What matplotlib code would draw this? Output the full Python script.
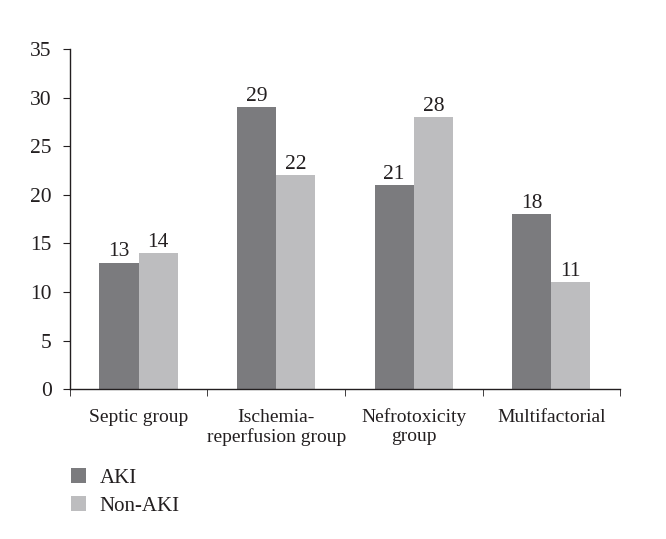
import numpy as np
import matplotlib
matplotlib.use("Agg")
import matplotlib.pyplot as plt
from matplotlib.ticker import MultipleLocator, FixedLocator

categories = ["Septic group", "Ischemia-\nreperfusion group", "Nefrotoxicity\ngroup", "Multifactorial"]
aki = [13, 29, 21, 18]
non_aki = [14, 22, 28, 11]
series_names = ["AKI", "Non-AKI"]

text_color = "#231f20"
aki_color = "#7b7b7e"
non_aki_color = "#bdbdbf"

plt.rcParams["font.family"] = ["Liberation Serif", "DejaVu Serif"]
plt.rcParams["text.color"] = text_color

fig = plt.figure(figsize=(6.66, 5.39), dpi=100)
ax = fig.add_axes([0.105, 0.278, 0.826, 0.631])

x = np.arange(len(categories))
w = 0.285
b1 = ax.bar(x - w / 2, aki, width=w, color=aki_color, label=series_names[0])
b2 = ax.bar(x + w / 2, non_aki, width=w, color=non_aki_color, label=series_names[1])

for bars in (b1, b2):
    for rect in bars:
        ax.text(rect.get_x() + rect.get_width() / 2, rect.get_height() + 0.15,
                "{:d}".format(int(rect.get_height())), ha="center", va="bottom",
                fontsize=15.5, color=text_color)

ax.set_xlim(-0.5, len(categories) - 0.5)
ax.set_ylim(0, 35)
ax.yaxis.set_major_locator(MultipleLocator(5))

ax.set_xticks(x)
ax.set_xticklabels(categories, fontsize=14, color=text_color, linespacing=1.15)
ax.tick_params(axis="x", which="major", length=0, pad=14)
ax.xaxis.set_minor_locator(FixedLocator(np.arange(-0.5, len(categories), 1.0)))
ax.tick_params(axis="x", which="minor", length=5, direction="out", color=text_color)
ax.tick_params(axis="y", length=5, direction="out", labelsize=15.5, color=text_color,
               labelcolor=text_color, pad=8)

for side in ("top", "right"):
    ax.spines[side].set_visible(False)
for side in ("left", "bottom"):
    ax.spines[side].set_color(text_color)
    ax.spines[side].set_linewidth(1.0)

fig.legend(handles=[b1, b2], labels=series_names, loc="upper left",
           bbox_to_anchor=(0.106, 0.132), frameon=False, fontsize=15,
           handlelength=0.76, handleheight=0.76, handletextpad=0.64, labelspacing=0.38,
           borderaxespad=0, borderpad=0)

fig.savefig("out.png", dpi=100)
